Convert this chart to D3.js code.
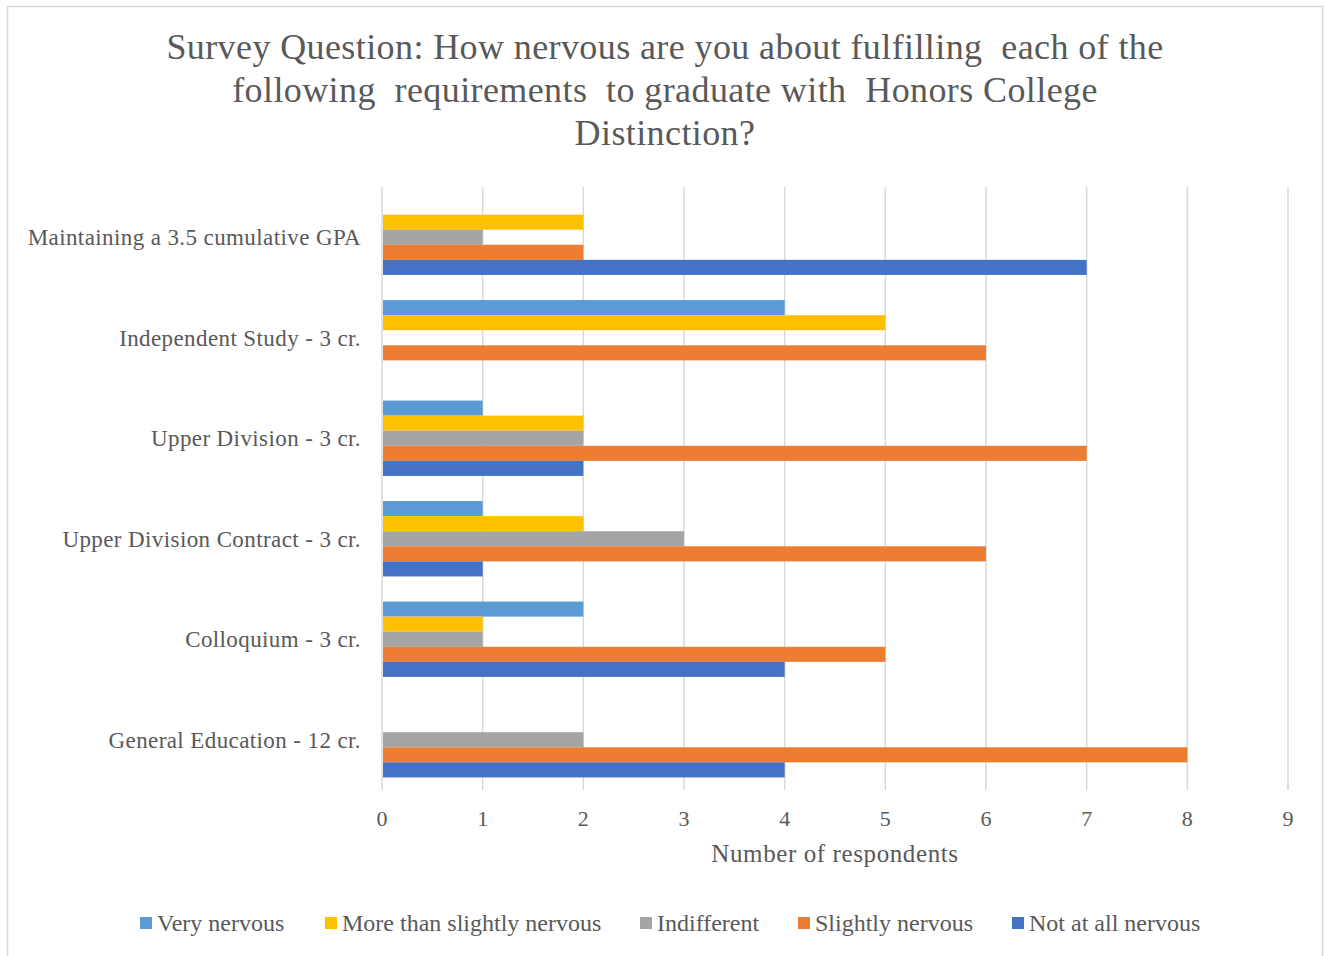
<!DOCTYPE html>
<html>
<head>
<meta charset="utf-8">
<script src="https://cdn.jsdelivr.net/npm/d3@7"></script>
<style>
  body { margin: 0; background: #fff; }
  svg text { font-family: "Liberation Serif", "Times New Roman", serif; fill: #595959; }
</style>
</head>
<body>
<div id="chart"></div>
<script>
// categories, top to bottom as drawn
const categories = [
    "Maintaining a 3.5 cumulative GPA",
    "Independent Study - 3 cr.",
    "Upper Division - 3 cr.",
    "Upper Division Contract - 3 cr.",
    "Colloquium - 3 cr.",
    "General Education - 12 cr."
];

// series, top to bottom inside each group (legend order)
const seriesNames = ["Very nervous", "More than slightly nervous", "Indifferent", "Slightly nervous", "Not at all nervous"];
const seriesColors = ["#5b9bd5", "#ffc000", "#a5a5a5", "#ed7d31", "#4472c4"];

const veryNervous = [0, 4, 1, 1, 2, 0];
const moreThanSlightly = [2, 5, 2, 2, 1, 0];
const indifferent = [1, 0, 2, 3, 1, 2];
const slightlyNervous = [2, 6, 7, 6, 5, 8];
const notAtAll = [7, 0, 2, 1, 4, 4];

const xTicks = [0, 1, 2, 3, 4, 5, 6, 7, 8, 9];
const titleLines = [
    "Survey Question: How nervous are you about fulfilling  each of the",
    "following  requirements  to graduate with  Honors College",
    "Distinction?"
];

const seriesValues = [veryNervous, moreThanSlightly, indifferent, slightlyNervous, notAtAll];

const width = 1325, height = 956;
const margin = {top: 187, right: 37, bottom: 166, left: 382};
const plotW = width - margin.left - margin.right;
const plotH = height - margin.top - margin.bottom;

const svg = d3.select("#chart").append("svg")
    .attr("width", width)
    .attr("height", height);

// chart border
svg.append("rect")
    .attr("x", 7.5).attr("y", 6.5)
    .attr("width", 1315).attr("height", 960)
    .attr("fill", "none")
    .attr("stroke", "#d9d9d9")
    .attr("stroke-width", 1.5);

// title
svg.append("text")
    .attr("text-anchor", "middle")
    .style("font-size", "36px")
    .style("letter-spacing", "0.4px")
    .selectAll("tspan")
    .data(titleLines)
    .enter().append("tspan")
    .attr("x", 665)
    .attr("y", (d, i) => 59 + i * 43)
    .style("white-space", "pre")
    .text(d => d);

const g = svg.append("g").attr("transform", `translate(${margin.left},${margin.top})`);

const x = d3.scaleLinear().domain([0, 9]).range([0, plotW]);
const y = d3.scaleBand().domain(categories).range([0, plotH]).paddingInner(0.25).paddingOuter(0.125);
const ySub = d3.scaleBand().domain(seriesNames).range([0, y.bandwidth()]);

// gridlines
g.selectAll("line.grid")
    .data(xTicks)
    .enter().append("line")
    .attr("class", "grid")
    .attr("x1", d => x(d)).attr("x2", d => x(d))
    .attr("y1", 0).attr("y2", plotH)
    .attr("stroke", "#d9d9d9")
    .attr("stroke-width", 1.5);

// bars
const group = g.selectAll("g.cat")
    .data(categories)
    .enter().append("g")
    .attr("class", "cat")
    .attr("transform", d => `translate(0,${y(d)})`);

group.selectAll("rect")
    .data((d, ci) => seriesNames.map((s, si) => ({s: s, si: si, v: seriesValues[si][ci]})))
    .enter().append("rect")
    .attr("x", x(0) + 1)
    .attr("y", d => ySub(d.s))
    .attr("width", d => Math.max(0, x(d.v) - x(0) - (d.v ? 1 : 0)))
    .attr("height", ySub.bandwidth())
    .attr("fill", d => seriesColors[d.si]);

// category labels
g.selectAll("text.cat")
    .data(categories)
    .enter().append("text")
    .attr("class", "cat")
    .attr("x", -21)
    .attr("y", d => y(d) + y.bandwidth() / 2)
    .attr("dy", "0.35em")
    .attr("text-anchor", "end")
    .style("font-size", "23px")
    .style("letter-spacing", "0.4px")
    .text(d => d);

// x tick labels
g.selectAll("text.tick")
    .data(xTicks)
    .enter().append("text")
    .attr("class", "tick")
    .attr("x", d => x(d))
    .attr("y", plotH + 36)
    .attr("text-anchor", "middle")
    .style("font-size", "22px")
    .text(d => d);

// axis title
g.append("text")
    .attr("x", plotW / 2)
    .attr("y", plotH + 72)
    .attr("text-anchor", "middle")
    .style("font-size", "25px")
    .style("letter-spacing", "0.6px")
    .text("Number of respondents");

// legend
const legendX = [140, 325, 640, 798, 1012];
const legend = svg.selectAll("g.legend")
    .data(seriesNames)
    .enter().append("g")
    .attr("class", "legend")
    .attr("transform", (d, i) => `translate(${legendX[i]},923)`);

legend.append("rect")
    .attr("x", 0).attr("y", -6)
    .attr("width", 12).attr("height", 12)
    .attr("fill", (d, i) => seriesColors[i]);

legend.append("text")
    .attr("x", 17)
    .attr("dy", "0.35em")
    .style("font-size", "24px")
    .text(d => d);
</script>
</body>
</html>
